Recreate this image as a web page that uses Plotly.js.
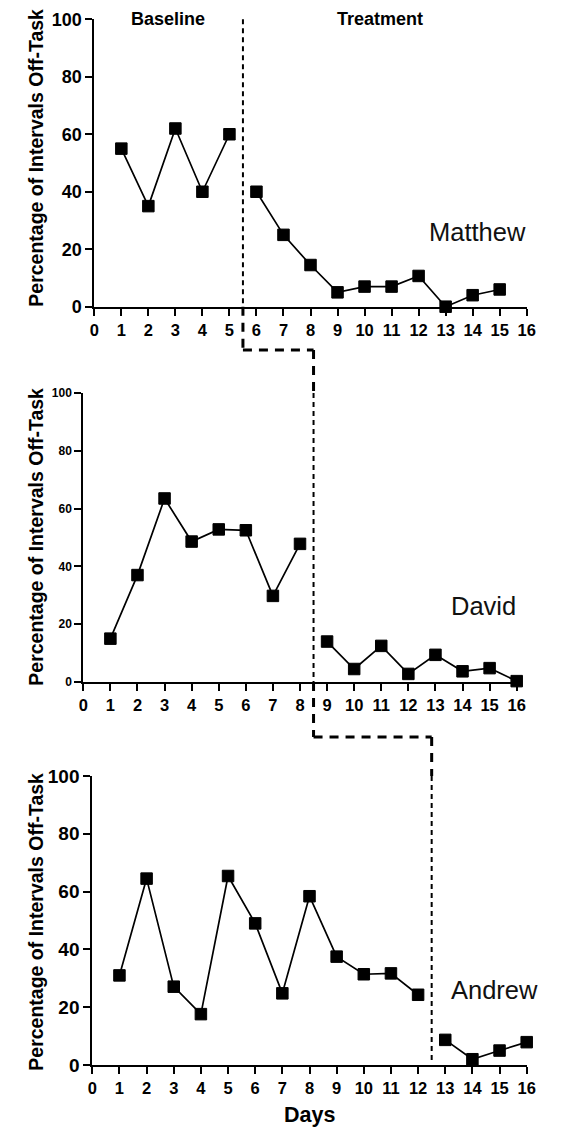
<!DOCTYPE html>
<html><head><meta charset="utf-8">
<script src="https://cdn.plot.ly/plotly-3.0.1.min.js"></script>
<style>html,body{margin:0;padding:0;background:#fff}#chart{width:561px;height:1132px}</style>
</head><body><div id="chart"></div>
<script>
// ---------- data ----------
const subjects = ["Matthew", "David", "Andrew"];
const phaseLabels = ["Baseline", "Treatment"];

const matthewBaselineDays = [1, 2, 3, 4, 5];
const matthewBaseline     = [55, 35, 62, 40, 60];
const matthewTreatmentDays = [6, 7, 8, 9, 10, 11, 12, 13, 14, 15];
const matthewTreatment     = [40, 25, 14.5, 5, 7, 7, 10.7, 0, 4, 6];

const davidBaselineDays = [1, 2, 3, 4, 5, 6, 7, 8];
const davidBaseline     = [15, 37, 63.5, 48.6, 52.8, 52.5, 29.8, 47.8];
const davidTreatmentDays = [9, 10, 11, 12, 13, 14, 15, 16];
const davidTreatment     = [14, 4.5, 12.5, 2.8, 9.4, 3.7, 4.8, 0.3];

const andrewBaselineDays = [1, 2, 3, 4, 5, 6, 7, 8, 9, 10, 11, 12];
const andrewBaseline     = [31, 64.5, 27.1, 17.6, 65.4, 49, 24.8, 58.4, 37.5, 31.4, 31.7, 24.3];
const andrewTreatmentDays = [13, 14, 15, 16];
const andrewTreatment     = [8.7, 2, 5, 7.9];

const phaseChange = [5.5, 8.5, 12.5];
const xTickVals = [0,1,2,3,4,5,6,7,8,9,10,11,12,13,14,15,16];
const yTickVals = [0, 20, 40, 60, 80, 100];
const yTitle = "Percentage of Intervals Off-Task";
const xTitle = "Days";

// ---------- layout geometry (pixels) ----------
const W = 561, H = 1132;
const panels = [
  {l: 94.3, r: 526.7, t: 19.3, b: 306.7, ytick: 18, nameX: 477, nameY: 232, titleY: 158},
  {l: 83.3, r: 516.7, t: 393,  b: 682,   ytick: 12, nameX: 483, nameY: 606, titleY: 537},
  {l: 92.3, r: 526.7, t: 776,  b: 1065,  ytick: 19, nameX: 494, nameY: 990, titleY: 922}
];
const connectorY = [350, 737];
const px = v => v / W;
const py = v => (H - v) / H;
const xPix = (i, v) => panels[i].l + (v - 0) / 16 * (panels[i].r - panels[i].l);

const FONT = "Liberation Sans, Arial, Helvetica, sans-serif";

const layout = {
  width: W, height: H,
  margin: {l: 0, r: 0, t: 0, b: 0},
  paper_bgcolor: "#fff", plot_bgcolor: "rgba(0,0,0,0)",
  showlegend: false,
  shapes: [], annotations: []
};

panels.forEach((p, i) => {
  const sfx = i === 0 ? "" : String(i + 1);
  layout["xaxis" + sfx] = {
    domain: [px(p.l), px(p.r)], anchor: "y" + sfx, range: [0, 16],
    tickmode: "array", tickvals: xTickVals, ticktext: xTickVals.map(String),
    showline: true, linecolor: "#000", linewidth: 2,
    ticks: "outside", ticklen: 7, tickwidth: 2, tickcolor: "#000",
    showgrid: false, zeroline: false,
    tickfont: {family: FONT, size: 16.5, color: "#000", weight: 700},
    fixedrange: true
  };
  layout["yaxis" + sfx] = {
    domain: [py(p.b), py(p.t)], anchor: "x" + sfx, range: [0, 100],
    tickmode: "array", tickvals: yTickVals, ticktext: yTickVals.map(String),
    showline: true, linecolor: "#000", linewidth: 2,
    ticks: "outside", ticklen: 7, tickwidth: 2, tickcolor: "#000",
    showgrid: false, zeroline: false,
    tickfont: {family: FONT, size: p.ytick, color: "#000", weight: 700},
    fixedrange: true
  };
  layout.annotations.push({
    xref: "paper", yref: "paper", x: px(35.7), y: py(p.titleY),
    text: yTitle, textangle: -90, showarrow: false,
    xanchor: "center", yanchor: "middle",
    font: {family: FONT, size: 19.5, color: "#000", weight: 700}
  });
  layout.annotations.push({
    xref: "paper", yref: "paper", x: px(p.nameX), y: py(p.nameY),
    text: subjects[i], showarrow: false, xanchor: "center", yanchor: "middle",
    font: {family: FONT, size: 25.5, color: "#111"}
  });
});

layout.annotations.push({
  xref: "paper", yref: "paper", x: px(168), y: py(19), text: phaseLabels[0],
  showarrow: false, xanchor: "center", yanchor: "middle",
  font: {family: FONT, size: 18, color: "#000", weight: 700}
});
layout.annotations.push({
  xref: "paper", yref: "paper", x: px(379.5), y: py(18.5), text: phaseLabels[1],
  showarrow: false, xanchor: "center", yanchor: "middle",
  font: {family: FONT, size: 18, color: "#000", weight: 700}
});
layout.annotations.push({
  xref: "paper", yref: "paper", x: px(309), y: py(1115), text: xTitle,
  showarrow: false, xanchor: "center", yanchor: "middle",
  font: {family: FONT, size: 21.5, color: "#000", weight: 700}
});

// ---------- phase-change dashed lines ----------
const thin = {color: "#000", width: 2, dash: "5px,4px"};
const thick = {color: "#000", width: 3, dash: "9px,7px"};
function seg(x0, y0, x1, y1, line) {
  layout.shapes.push({type: "line", xref: "paper", yref: "paper",
    x0: px(x0), y0: py(y0), x1: px(x1), y1: py(y1), line: line});
}
const pcx = phaseChange.map((v, i) => xPix(i, v));
// panel 1
seg(pcx[0], panels[0].t, pcx[0], panels[0].b, thin);
seg(pcx[0], panels[0].b, pcx[0], connectorY[0], thick);
seg(pcx[0], connectorY[0], pcx[1], connectorY[0], thick);
seg(pcx[1], connectorY[0], pcx[1], panels[1].t, thick);
// panel 2
seg(pcx[1], panels[1].t, pcx[1], panels[1].b, thin);
seg(pcx[1], panels[1].b, pcx[1], connectorY[1], thick);
seg(pcx[1], connectorY[1], pcx[2], connectorY[1], thick);
seg(pcx[2], connectorY[1], pcx[2], panels[2].t, thick);
// panel 3
seg(pcx[2], panels[2].t, pcx[2], panels[2].b - 3, thin);

// ---------- traces ----------
const series = [
  [matthewBaselineDays, matthewBaseline, matthewTreatmentDays, matthewTreatment],
  [davidBaselineDays, davidBaseline, davidTreatmentDays, davidTreatment],
  [andrewBaselineDays, andrewBaseline, andrewTreatmentDays, andrewTreatment]
];
const traces = [];
series.forEach((s, i) => {
  const sfx = i === 0 ? "" : String(i + 1);
  [[s[0], s[1]], [s[2], s[3]]].forEach(([xs, ys]) => {
    traces.push({
      type: "scatter", mode: "lines+markers", x: xs, y: ys,
      xaxis: "x" + sfx, yaxis: "y" + sfx, cliponaxis: false,
      line: {color: "#000", width: 1.7},
      marker: {symbol: "square", size: 11.5, color: "#000", line: {color: "#000", width: 1}},
      hoverinfo: "skip"
    });
  });
});

Plotly.newPlot("chart", traces, layout, {staticPlot: true, displayModeBar: false});
</script></body></html>
